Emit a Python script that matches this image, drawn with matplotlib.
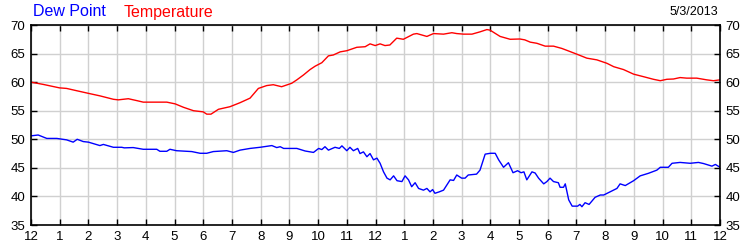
import matplotlib.pyplot as plt

plt.rcParams['font.family'] = ['Liberation Sans', 'DejaVu Sans']

# hours since midnight
temp_hours = [0, 0.43, 0.99, 1.24, 1.59, 1.99, 2.4, 2.87, 3.04, 3.39, 3.7, 3.91, 4.73, 5.02,
              5.31, 5.66, 6.0, 6.12, 6.27, 6.53, 6.93, 7.28, 7.63, 7.92, 8.21, 8.44, 8.73,
              9.08, 9.26, 9.49, 9.72, 9.9, 10.13, 10.36, 10.53, 10.77, 11.0, 11.35, 11.64,
              11.81, 11.99, 12.16, 12.33, 12.5, 12.74, 12.97, 13.32, 13.44, 13.79, 14.02,
              14.37, 14.66, 14.83, 15.07, 15.36, 15.64, 15.88, 15.99, 16.34, 16.69, 17.03,
              17.2, 17.39, 17.62, 17.91, 18.2, 18.49, 18.7, 19.01, 19.36, 19.71, 20.06,
              20.3, 20.64, 20.99, 21.34, 21.68, 21.92, 22.15, 22.38, 22.61, 22.84, 23.19,
              23.54, 23.77, 24.0]
temperature = [60.0, 59.6, 59.0, 58.9, 58.5, 58.05, 57.6, 57.0, 56.9, 57.1, 56.75, 56.5, 56.5,
               56.2, 55.6, 55.0, 54.8, 54.4, 54.4, 55.25, 55.7, 56.4, 57.2, 58.9, 59.4, 59.55,
               59.2, 59.8, 60.4, 61.25, 62.2, 62.8, 63.4, 64.6, 64.75, 65.3, 65.5, 66.1, 66.2,
               66.7, 66.4, 66.7, 66.4, 66.5, 67.7, 67.5, 68.4, 68.5, 68.0, 68.5, 68.4, 68.65,
               68.5, 68.4, 68.4, 68.8, 69.2, 69.1, 68.0, 67.5, 67.55, 67.4, 67.0, 66.8, 66.3,
               66.3, 65.9, 65.5, 64.9, 64.2, 63.9, 63.3, 62.7, 62.2, 61.4, 60.95, 60.5, 60.25,
               60.5, 60.55, 60.8, 60.7, 60.7, 60.4, 60.25, 60.4]

dew_hours = [0, 0.25, 0.55, 0.9, 1.24, 1.47, 1.61, 1.82, 2.0, 2.4, 2.52, 2.87, 3.16, 3.25,
             3.56, 3.91, 4.38, 4.49, 4.73, 4.84, 5.07, 5.6, 5.89, 6.12, 6.35, 6.82, 7.05, 7.28,
             7.63, 7.98, 8.39, 8.56, 8.68, 8.8, 9.26, 9.55, 9.84, 10.02, 10.13, 10.24, 10.36,
             10.59, 10.74, 10.83, 11.0, 11.11, 11.23, 11.38, 11.46, 11.58, 11.7, 11.81, 11.93,
             12.05, 12.16, 12.28, 12.4, 12.51, 12.63, 12.75, 12.92, 13.03, 13.15, 13.26, 13.38,
             13.5, 13.67, 13.79, 13.9, 13.99, 14.07, 14.22, 14.37, 14.6, 14.72, 14.83, 15.0,
             15.12, 15.23, 15.52, 15.64, 15.82, 16.0, 16.17, 16.29, 16.46, 16.63, 16.79, 16.95,
             17.07, 17.17, 17.27, 17.45, 17.56, 17.68, 17.86, 17.97, 18.08, 18.2, 18.37, 18.43,
             18.55, 18.61, 18.73, 18.85, 19.04, 19.12, 19.19, 19.3, 19.44, 19.65, 19.83, 19.95,
             20.17, 20.41, 20.52, 20.7, 20.99, 21.22, 21.51, 21.8, 21.92, 22.2, 22.33, 22.61,
             22.96, 23.25, 23.43, 23.72, 23.84, 24.0]
dew_point = [50.6, 50.75, 50.15, 50.15, 49.9, 49.5, 50.0, 49.6, 49.5, 48.9, 49.1, 48.6, 48.6,
             48.5, 48.55, 48.25, 48.25, 47.9, 47.9, 48.25, 48.0, 47.85, 47.55, 47.55, 47.85,
             48.0, 47.7, 48.1, 48.4, 48.6, 48.9, 48.55, 48.7, 48.4, 48.4, 47.95, 47.7, 48.4,
             48.2, 48.7, 48.1, 48.6, 48.4, 48.85, 48.0, 48.6, 48.0, 48.4, 47.5, 47.8, 46.95,
             47.5, 46.4, 46.7, 45.8, 44.3, 43.2, 42.9, 43.6, 42.75, 42.6, 43.6, 42.9, 41.7,
             42.4, 41.4, 41.1, 41.4, 40.8, 41.2, 40.55, 40.8, 41.1, 42.9, 42.8, 43.75, 43.2,
             43.2, 43.75, 43.9, 44.6, 47.4, 47.55, 47.55, 46.4, 45.1, 45.9, 44.15, 44.5, 44.15,
             44.3, 42.9, 44.3, 44.1, 43.2, 42.2, 42.6, 43.2, 42.6, 42.4, 41.6, 41.6, 42.2, 39.4,
             38.3, 38.3, 38.6, 38.2, 38.9, 38.6, 39.85, 40.25, 40.25, 40.8, 41.4, 42.2, 41.9,
             42.75, 43.6, 44.05, 44.6, 45.1, 45.1, 45.8, 45.95, 45.8, 45.95, 45.75, 45.3, 45.6,
             45.1]

x_ticks = list(range(25))
x_labels = ['12'] + [str(i) for i in range(1, 12)] + ['12'] + [str(i) for i in range(1, 12)] + ['12']
y_ticks = [35, 40, 45, 50, 55, 60, 65, 70]

fig = plt.figure(figsize=(7.5, 2.5), dpi=100)
ax = fig.add_axes([31 / 750, 0.1, 689 / 750, 0.8])

ax.plot(temp_hours, temperature, color='#ff0000', linewidth=1)
ax.plot(dew_hours, dew_point, color='#0000ff', linewidth=1)

ax.set_xlim(0, 24)
ax.set_ylim(35, 70)
ax.set_xticks(x_ticks)
ax.set_xticklabels(x_labels)
ax.set_yticks(y_ticks)

ax.grid(True, color='#d0d0d0', linewidth=1)
ax.set_axisbelow(True)
ax.tick_params(direction='in', length=4, width=1, top=True, right=True,
               labelright=True, labelsize=9.5, pad=4, colors='black')
for s in ax.spines.values():
    s.set_linewidth(1.2)

fig.text(33 / 750, 1 - 12 / 250, 'Dew Point', color='#0000ff', fontsize=11.5, va='center')
fig.text(124 / 750, 1 - 12 / 250, 'Temperature', color='#ff0000', fontsize=11.5, va='center')
fig.text(718 / 750, 1 - 12 / 250, '5/3/2013', color='black', fontsize=9, va='center', ha='right')

plt.savefig('out.png', dpi=100)
